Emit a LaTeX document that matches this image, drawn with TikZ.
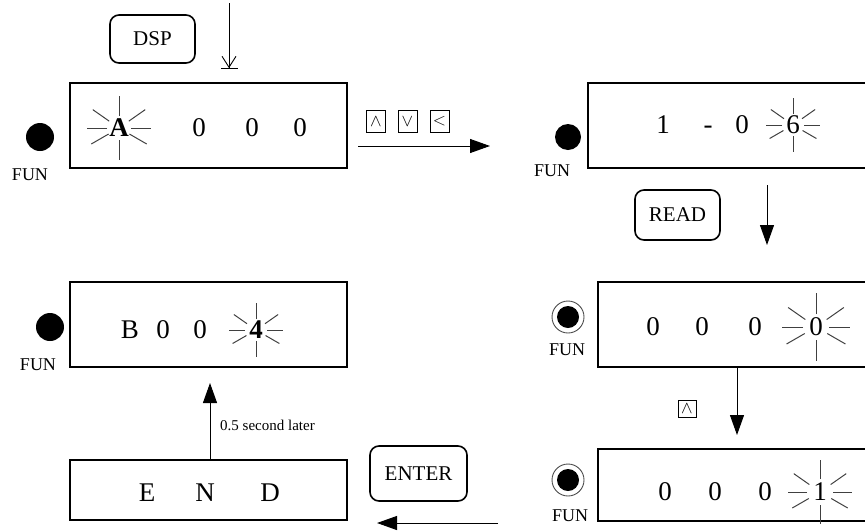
\documentclass[tikz,border=0pt]{standalone}
\usepackage{fontspec}
\setmainfont{Liberation Serif}
\usetikzlibrary{arrows.meta,calc}
\tikzset{
  dispbox/.style={draw, line width=1.8pt, inner sep=0pt},
  keybtn/.style={draw, line width=1.6pt, rounded corners=9pt, inner sep=0pt, font=\fontsize{21}{23}\selectfont},
  keysq/.style={draw, line width=0.9pt, minimum width=19pt, minimum height=22pt, inner sep=0pt, font=\fontsize{16}{18}\selectfont},
  digit/.style={inner sep=0pt, font=\fontsize{27}{30}\selectfont},
  funlbl/.style={inner sep=0pt, font=\fontsize{18}{20}\selectfont},
  ray/.style={draw=black!75, line width=1pt},
  flow/.style={line width=1pt, -{Triangle[length=20pt,width=14pt]}},
}
\newcommand{\rays}[4]{% x y inner outer
  \foreach \ang in {0,30,90,150,180,215,270,325}
    \draw[ray] ($(#1,#2)+(\ang:#3)$) -- ($(#1,#2)+(\ang:#4)$);
}
\begin{document}
\begin{tikzpicture}[x=1pt,y=-1pt]
\useasboundingbox (0,0) rectangle (865,531);

% display boxes
\node[dispbox, minimum width=277pt, minimum height=85pt] (b1) at (208.5,125.5) {};
\node[dispbox, minimum width=280pt, minimum height=85pt] (b2) at (728,125.5) {};
\node[dispbox, minimum width=270pt, minimum height=85pt] (b3) at (733,324.5) {};
\node[dispbox, minimum width=270pt, minimum height=72pt] (b4) at (733,485) {};
\node[dispbox, minimum width=277pt, minimum height=85pt] (b5) at (208.5,324.5) {};
\node[dispbox, minimum width=277pt, minimum height=60pt] (b6) at (208.5,490) {};

% buttons
\node[keybtn, minimum width=85pt, minimum height=48pt] (dsp) at (152.5,39) {DSP};
\node[keybtn, minimum width=85pt, minimum height=50pt] (read) at (677.5,215) {READ};
\node[keybtn, minimum width=97pt, minimum height=55pt] (enter) at (418.5,473.5) {ENTER};

% FUN indicators
\fill (40,137) circle (14pt);
\node[funlbl] (f1) at (30,175) {FUN};
\fill (568,137) circle (13pt);
\node[funlbl] (f2) at (552,171) {FUN};
\draw[black!70, line width=0.9pt] (568,317) circle (16pt);
\fill (568,317) circle (11pt);
\node[funlbl] (f3) at (567,350) {FUN};
\draw[black!70, line width=0.9pt] (568,480) circle (16pt);
\fill (568,480) circle (11pt);
\node[funlbl] (f4) at (570,516) {FUN};
\fill (50,327) circle (14pt);
\node[funlbl] (f5) at (38,365) {FUN};

% box 1 content
\node[digit] (a1) at (119,128) {\textbf{A}};
\rays{119}{128}{12}{32}
\node[digit] (a2) at (199,128) {0};
\node[digit] (a3) at (252,128) {0};
\node[digit] (a4) at (300,128) {0};

% box 2 content
\node[digit] (c1) at (663,125) {1};
\node[digit] (c2) at (708,130) {-};
\node[digit] (c3) at (742,125) {0};
\node[digit] (c4) at (793,125) {6};
\rays{793}{125}{11}{27}

% box 3 content
\node[digit] (d1) at (653,327) {0};
\node[digit] (d2) at (702,327) {0};
\node[digit] (d3) at (755,327) {0};
\node[digit] (d4) at (816,327) {0};
\rays{816}{327}{13}{34}

% box 4 content
\node[digit] (e1) at (665,492) {0};
\node[digit] (e2) at (715,492) {0};
\node[digit] (e3) at (765,492) {0};
\node[digit] (e4) at (820,492) {1};
\rays{820}{492}{13}{32}

% box 5 content
\node[digit] (g1) at (130,330) {B};
\node[digit] (g2) at (163,330) {0};
\node[digit] (g3) at (200,330) {0};
\node[digit] (g4) at (256,330) {\textbf{4}};
\rays{256}{330}{11}{27}

% box 6 content
\node[digit] (h1) at (147,493) {E};
\node[digit] (h2) at (205,493) {N};
\node[digit] (h3) at (270,493) {D};

% key squares
\node[keysq] (k1) at (376,121.5) {$\wedge$};
\node[keysq] (k2) at (407.5,121.5) {$\vee$};
\node[keysq] (k3) at (439.5,121.5) {$<$};
\node[keysq, minimum width=18pt, minimum height=17pt] (k4) at (687,409) {$\wedge$};

% connectors
\coordinate (dspA) at (229,3);
\coordinate (dspB) at (229,69);
\draw[line width=0.9pt, -{Straight Barb[length=11pt,width=14pt]Bar[width=17pt,sep=0pt]}] (dspA) -- (dspB);

\coordinate (r1) at (358,146);
\coordinate (r2) at (490,146);
\draw[flow] (r1) -- (r2);

\coordinate (d1a) at (767,185);
\coordinate (d1b) at (767,245);
\draw[flow] (d1a) -- (d1b);

\coordinate (d2a) at (737,367);
\coordinate (d2b) at (737,435);
\draw[flow] (d2a) -- (d2b);

\coordinate (l1) at (498,523);
\coordinate (l2) at (377,523);
\draw[flow] (l1) -- (l2);

\coordinate (u1) at (210,383);
\draw[flow] (b6.north -| u1) -- (u1);
\node[anchor=west, inner sep=0pt, font=\fontsize{15}{17}\selectfont] (lat) at (220,425) {0.5 second later};
\end{tikzpicture}
\end{document}
